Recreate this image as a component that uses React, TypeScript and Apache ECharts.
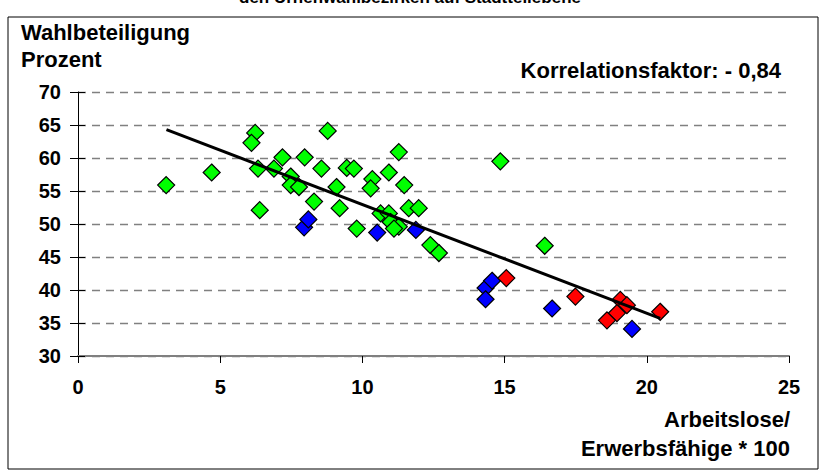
import React, { useEffect, useRef } from "react";
import * as echarts from "echarts";

const greenPoints: number[][] = [
  [3.1, 55.9], [4.7, 57.8], [6.23, 63.8], [6.1, 62.3], [6.33, 58.4], [6.39, 52.1],
  [7.19, 60.1], [6.89, 58.4], [7.97, 60.1], [7.48, 57.2], [7.48, 55.9], [7.77, 55.6],
  [8.3, 53.4], [8.78, 64.1], [8.56, 58.4], [9.09, 55.6], [9.2, 52.4], [9.45, 58.5],
  [9.7, 58.4], [9.8, 49.3], [10.35, 56.8], [10.29, 55.4], [11.28, 60.9], [10.93, 57.8],
  [11.47, 55.9], [10.64, 51.6], [10.93, 51.6], [10.99, 50.3], [11.28, 49.6], [11.11, 49.3],
  [11.63, 52.4], [11.98, 52.4], [12.39, 46.8], [12.69, 45.6], [14.85, 59.5], [16.41, 46.7],
];
const bluePoints: number[][] = [
  [7.95, 49.5], [8.1, 50.7], [10.52, 48.7], [11.88, 49.1], [14.33, 40.3], [14.56, 41.4],
  [14.33, 38.6], [16.67, 37.2], [19.48, 34.1],
];
const redPoints: number[][] = [
  [15.06, 41.8], [17.49, 39.0], [19.07, 38.5], [19.3, 37.7], [18.95, 36.5], [18.6, 35.4],
  [20.47, 36.7],
];
const trendLine: number[][] = [[3.11, 64.3], [20.47, 35.7]];

const titleText = "den Urnenwahlbezirken auf Stadtteilebene";
const yTitle1 = "Wahlbeteiligung";
const yTitle2 = "Prozent";
const corrText = "Korrelationsfaktor: - 0,84";
const xTitle1 = "Arbeitslose/";
const xTitle2 = "Erwerbsfähige * 100";

const FONT = "'Liberation Sans', Arial, sans-serif";

export default function App() {
  const ref = useRef<HTMLDivElement>(null);
  useEffect(() => {
    if (!ref.current) return;
    const chart = echarts.init(ref.current, undefined, { renderer: "svg" });
    const textEl = (text: string, x: number, y: number, align: string, size = 22) => ({
      type: "text",
      x,
      y,
      style: {
        text,
        fill: "#000",
        font: `bold ${size}px ${FONT}`,
        textAlign: align,
        textVerticalAlign: "middle",
      },
    });
    const scatter = (data: number[][], color: string) => ({
      type: "scatter",
      data,
      symbol: "diamond",
      symbolSize: 17,
      itemStyle: { color, borderColor: "#000", borderWidth: 1.2, opacity: 1 },
      z: 3,
    });
    const labelFont = { color: "#000", fontSize: 20, fontWeight: "bold", fontFamily: FONT };
    chart.setOption({
      animation: false,
      backgroundColor: "#fff",
      grid: { left: 78, right: 30, top: 92, bottom: 114, containLabel: false },
      xAxis: {
        type: "value",
        min: 0,
        max: 25,
        interval: 5,
        axisLine: { show: true, lineStyle: { color: "#808080", width: 2 } },
        axisTick: { show: true, length: 7, lineStyle: { color: "#000" } },
        axisLabel: { margin: 21, ...labelFont },
        splitLine: { show: false },
      },
      yAxis: [
        {
          type: "value",
          min: 30,
          max: 70,
          interval: 5,
          axisLine: { show: true, lineStyle: { color: "#000", width: 1 } },
          axisTick: { show: true, length: 8, lineStyle: { color: "#000" } },
          axisLabel: { margin: 17, ...labelFont },
          splitLine: { show: true, lineStyle: { color: "#808080", type: [8, 6], width: 1.3 } },
        },
        {
          type: "value",
          position: "left",
          min: 30,
          max: 70,
          interval: 5,
          axisLine: { show: false },
          axisTick: { show: true, inside: true, length: 7, lineStyle: { color: "#000" } },
          axisLabel: { show: false },
          splitLine: { show: false },
        },
      ],
      series: [
        scatter(greenPoints, "#00FF00"),
        scatter(bluePoints, "#0000FF"),
        scatter(redPoints, "#FF0000"),
        {
          type: "line",
          data: trendLine,
          symbol: "none",
          lineStyle: { color: "#000", width: 3 },
          z: 5,
        },
      ],
      graphic: [
        {
          type: "rect",
          shape: { x: 8, y: 17, width: 810, height: 452 },
          style: { fill: "none", stroke: "#000", lineWidth: 1 },
        },
        textEl(titleText, 410, -3, "center", 17),
        textEl(yTitle1, 21, 32, "left"),
        textEl(yTitle2, 21, 59, "left"),
        textEl(corrText, 781, 70, "right"),
        textEl(xTitle1, 790, 419, "right"),
        textEl(xTitle2, 790, 448, "right"),
      ],
    });
    return () => chart.dispose();
  }, []);
  return (
    <div
      ref={ref}
      style={{ position: "fixed", left: 0, top: 0, width: 819, height: 470, background: "#fff" }}
    />
  );
}
